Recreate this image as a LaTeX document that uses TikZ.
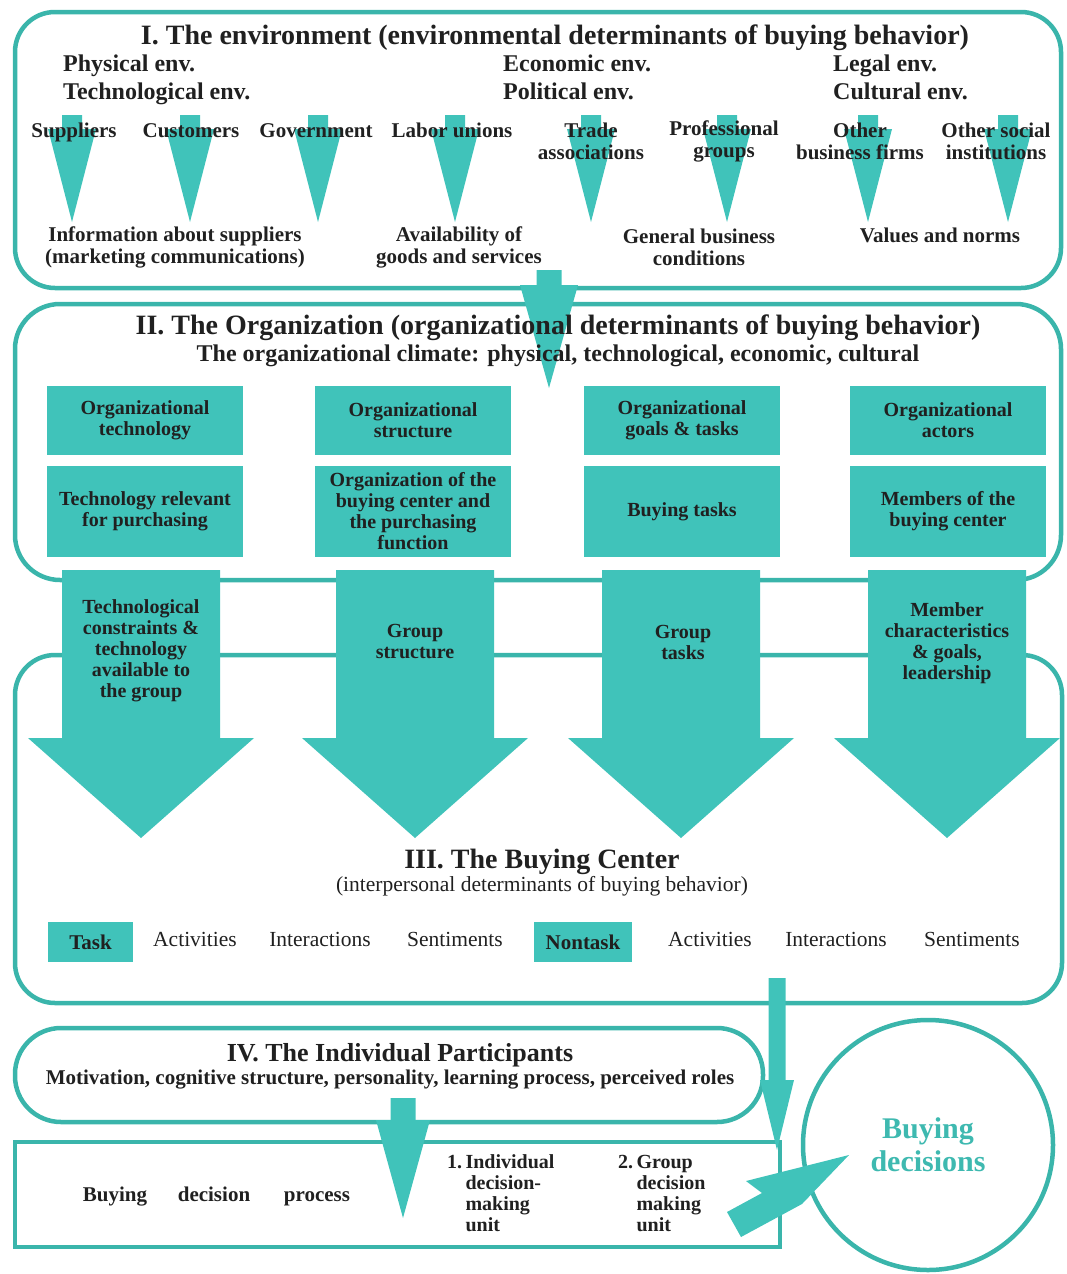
\documentclass[tikz,border=0pt]{standalone}
\usepackage{fontspec}
\setmainfont{Liberation Serif}
\definecolor{tealf}{RGB}{64,195,186}
\definecolor{tealc}{RGB}{58,181,171}
\definecolor{tealt}{RGB}{62,185,176}
\definecolor{ink}{RGB}{32,32,32}
\newcommand\fntHead{\fontsize{28}{30}\selectfont\bfseries}
\newcommand\fntEnv{\fontsize{24}{26}\selectfont\bfseries}
\newcommand\fntLab{\fontsize{21}{22}\selectfont\bfseries}
\newcommand\fntBox{\fontsize{20}{21}\selectfont\bfseries}
\newcommand\fntRow{\fontsize{21.5}{23}\selectfont}
% block arrow pointing down: centre x, stem half width, stem top, head top, head half width, tip
\newcommand\dnarrow[6]{%
  \fill[tealf] ({#1-#2},#3) -- ({#1+#2},#3) -- ({#1+#2},#4) -- ({#1+#5},#4)
    -- (#1,#6) -- ({#1-#5},#4) -- ({#1-#2},#4) -- cycle;}
\begin{document}
\begin{tikzpicture}[x=1pt,y=-1pt,
  frame/.style={draw=tealc, line width=4.5pt},
  panel/.style={frame, rounded corners=40pt},
  txt/.style={text=ink, inner sep=0pt},
  head/.style={txt, font=\fntHead},
  env/.style={txt, font=\fntEnv, anchor=base west},
  lab/.style={txt, font=\fntLab, align=center},
  blk/.style={fill=tealf, txt, font=\fntBox, align=center, minimum width=196pt},
  arrowtxt/.style={txt, font=\fntBox, align=center},
  row/.style={txt, font=\fntRow, anchor=base},
  tag/.style={fill=tealf, txt, font=\fntLab, minimum height=40pt}]
\useasboundingbox (0,0) rectangle (1067,1274);

% ---------- frames ----------
\draw[panel] (15,12) rectangle (1061,288);
\draw[panel, rounded corners=45pt] (15,304) rectangle (1061,580);
\draw[panel] (15,655) rectangle (1062,1003);
\draw[panel, rounded corners=46pt] (15,1028) rectangle (763,1122);
\draw[frame] (15,1142) rectangle (780,1247);
\node[circle, draw=tealc, line width=4.5pt, minimum size=250pt, inner sep=0pt,
      text=tealt, align=center, font=\fontsize{30}{33}\selectfont\bfseries]
      (dec) at (928,1145) {Buying\\decisions};

% ---------- block arrows ----------
\foreach \cx in {72,190,318,455,591,727,868,1008}
  {\dnarrow{\cx}{10}{115}{129}{24}{222}}
\dnarrow{549}{12.5}{270}{285}{29}{388}
\foreach \cx in {141,415,681,947}
  {\dnarrow{\cx}{79}{570}{738}{113}{838}}
\dnarrow{403}{12.5}{1098}{1120}{27}{1218}
\dnarrow{777}{8.5}{978}{1080}{17}{1150}
\fill[tealf] (727,1212) -- (762,1193) -- (746,1181) -- (849,1155)
  -- (802,1204) -- (741,1237) -- cycle;

% ---------- I. environment ----------
\node[head] (t1) at (555,38) {I. The environment (environmental determinants of buying behavior)};
\node[env] (phy) at (63,71) {Physical env.};
\node[env] (tec) at (63,99) {Technological env.};
\node[env] (eco) at (503,71) {Economic env.};
\node[env] (pol) at (503,99) {Political env.};
\node[env] (leg) at (833,71) {Legal env.};
\node[env] (cul) at (833,99) {Cultural env.};

\node[lab, anchor=base] (sup) at (74,137) {Suppliers};
\node[lab, anchor=base] (cus) at (191,137) {Customers};
\node[lab, anchor=base] (gov) at (316,137) {Government};
\node[lab, anchor=base] (lab) at (452,137) {Labor unions};
\node[lab] (tra) at (591,141) {Trade\\associations};
\node[lab] (pro) at (724,141) {Professional\\groups};
\node[lab] (obf) at (860,141) {Other\\business firms};
\node[lab] (osi) at (996,141) {Other social\\institutions};

\node[lab] (inf) at (175,247) {Information about suppliers\\(marketing communications)};
\node[lab] (ava) at (459,247) {Availability of\\goods and services};
\node[lab] (gbc) at (699,247) {General business\\conditions};
\node[lab, anchor=base] (val) at (940,242) {Values and norms};

% ---------- II. organization ----------
\node[head] (t2) at (558,328) {II. The Organization (organizational determinants of buying behavior)};
\node[txt, font=\fntEnv] (t2s) at (558,356) {The organizational climate: physical, technological, economic, cultural};

\node[blk, minimum height=69pt] (ot) at (145,420.5) {Organizational\\technology};
\node[blk, minimum height=69pt] (os) at (413,420.5) {Organizational\\structure};
\node[blk, minimum height=69pt] (og) at (682,420.5) {Organizational\\goals \& tasks};
\node[blk, minimum height=69pt] (oa) at (948,420.5) {Organizational\\actors};
\node[blk, minimum height=91pt] (tr) at (145,511.5) {Technology relevant\\for purchasing};
\node[blk, minimum height=91pt] (ob) at (413,511.5) {Organization of the\\buying center and\\the purchasing\\function};
\node[blk, minimum height=91pt] (bt) at (682,511.5) {Buying tasks};
\node[blk, minimum height=91pt] (mb) at (948,511.5) {Members of the\\buying center};

\node[arrowtxt] (a1) at (141,651) {Technological\\constraints \&\\technology\\available to\\the group};
\node[arrowtxt] (a2) at (415,641) {Group\\structure};
\node[arrowtxt] (a3) at (683,642) {Group\\tasks};
\node[arrowtxt] (a4) at (947,643) {Member\\characteristics\\\& goals,\\leadership};

% ---------- III. buying center ----------
\node[head] (t3) at (542,862) {III. The Buying Center};
\node[txt, font=\fntRow] (t3s) at (542,886) {(interpersonal determinants of buying behavior)};

\node[tag, minimum width=85pt] (task) at (90.5,942) {Task};
\node[row] (ac1) at (195,946) {Activities};
\node[row] (in1) at (320,946) {Interactions};
\node[row] (se1) at (455,946) {Sentiments};
\node[tag, minimum width=98pt] (ntask) at (583,942) {Nontask};
\node[row] (ac2) at (710,946) {Activities};
\node[row] (in2) at (836,946) {Interactions};
\node[row] (se2) at (972,946) {Sentiments};

% ---------- IV. individual participants ----------
\node[txt, font=\fontsize{26}{28}\selectfont\bfseries] (t4) at (400,1055) {IV. The Individual Participants};
\node[lab] (t4s) at (390,1080) {Motivation, cognitive structure, personality, learning process, perceived roles};

\node[lab, anchor=base] (buy) at (115,1201) {Buying};
\node[lab, anchor=base] (dcs) at (214,1201) {decision};
\node[lab, anchor=base] (prc) at (317,1201) {process};

\node[txt, anchor=north west, font=\fntBox] (u1) at (447,1154)
  {\begin{tabular}{@{}l@{\,}l@{}}1.&Individual\\&decision-\\&making\\&unit\end{tabular}};
\node[txt, anchor=north west, font=\fntBox] (u2) at (618,1154)
  {\begin{tabular}{@{}l@{\,}l@{}}2.&Group\\&decision\\&making\\&unit\end{tabular}};
\end{tikzpicture}
\end{document}
